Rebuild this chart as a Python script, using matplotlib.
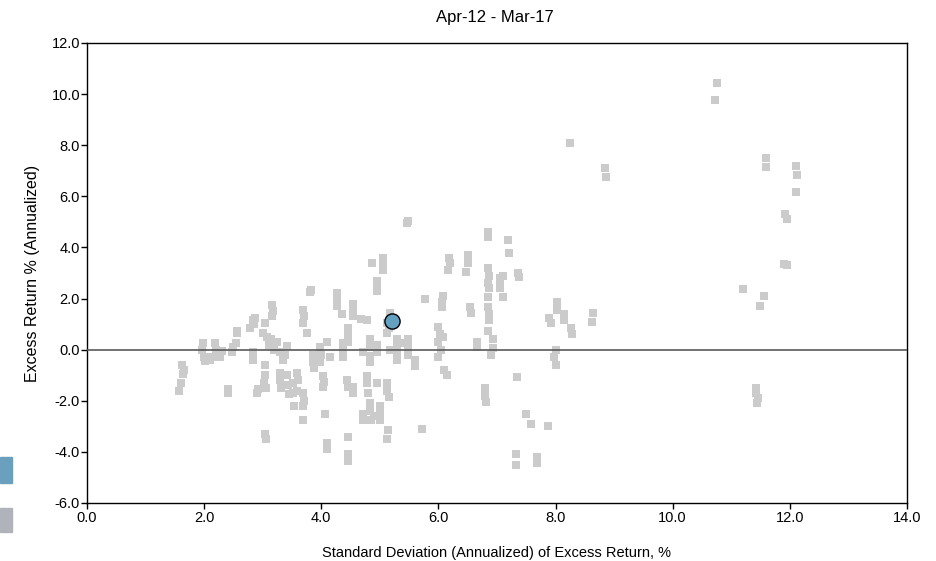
import matplotlib.pyplot as plt
from matplotlib.patches import Rectangle

plt.rcParams['font.family'] = ['Liberation Sans', 'DejaVu Sans']

title = 'Apr-12 - Mar-17'
x_label = 'Standard Deviation (Annualized) of Excess Return, %'
y_label = 'Excess Return % (Annualized)'

# peer universe points (std dev, excess return)
peer_points = [
    (1.62, -0.6), (1.65, -0.8), (1.64, -0.95), (1.6, -1.3), (1.58, -1.6),
    (1.98, 0.25), (1.97, 0.0), (2.0, -0.3), (2.02, -0.45), (2.1, -0.4), (2.13, -0.3),
    (2.19, 0.25), (2.2, 0.0), (2.22, -0.3), (2.3, -0.05), (2.27, -0.3),
    (2.41, -1.55), (2.4, -1.7),
    (2.48, -0.1), (2.5, 0.1), (2.54, 0.25), (2.56, 0.65), (2.57, 0.72),
    (2.78, 0.85), (2.83, 1.15), (2.87, 1.25), (2.85, 1.0),
    (2.83, -0.1), (2.84, -0.4), (2.92, -1.55), (2.9, -1.7),
    (3.04, -0.6), (3.04, -1.0), (3.02, -1.3), (3.05, -1.5),
    (3.04, -3.3), (3.06, -3.5),
    (3.16, 1.75), (3.18, 1.5), (3.16, 1.3), (3.04, 1.05),
    (3.0, 0.65), (3.07, 0.5), (3.1, 0.2), (3.15, 0.4), (3.2, 0.0), (3.25, 0.3),
    (3.3, -0.1), (3.35, -0.4), (3.41, 0.15), (3.38, -0.2),
    (3.3, -0.9), (3.3, -1.2), (3.32, -1.5), (3.42, -1.0), (3.44, -1.4), (3.45, -1.75),
    (3.52, -1.3), (3.52, -1.7), (3.53, -2.2),
    (3.58, -0.9), (3.6, -1.2), (3.58, -1.6), (3.69, -1.7), (3.7, -2.0), (3.69, -2.2),
    (3.69, -2.75),
    (3.69, 1.55), (3.7, 1.3), (3.69, 1.05), (3.75, 0.65),
    (3.82, 2.35), (3.8, 2.25),
    (3.86, -0.2), (3.86, -0.5), (3.88, -0.7), (3.98, 0.1), (4.0, -0.2), (3.98, -0.5),
    (4.15, -0.3), (4.1, 0.3),
    (4.03, -1.05), (4.05, -1.25), (4.03, -1.45), (4.06, -2.5),
    (4.1, -3.65), (4.1, -3.9),
    (4.27, 2.2), (4.27, 1.95), (4.27, 1.7), (4.35, 1.4),
    (4.46, 0.85), (4.46, 0.55), (4.46, 0.3), (4.37, 0.25), (4.37, 0.0), (4.37, -0.3),
    (4.44, -1.2), (4.46, -1.45), (4.54, -1.45), (4.54, -1.7),
    (4.46, -3.4), (4.45, -4.1), (4.45, -4.35),
    (4.54, 1.8), (4.55, 1.5), (4.54, 1.3), (4.78, 1.15), (4.68, 1.2),
    (4.83, 0.4), (4.83, 0.1), (4.83, -0.25), (4.83, -0.5), (4.71, -0.1), (4.95, -0.1),
    (4.95, 0.2),
    (4.78, -1.05), (4.78, -1.3), (4.8, -1.7), (4.95, -1.3),
    (4.71, -2.5), (4.71, -2.75), (4.83, -2.1), (4.83, -2.4), (4.85, -2.75),
    (5.0, -2.2), (5.0, -2.5), (5.0, -2.75), (4.9, -2.6),
    (4.87, 3.4), (5.05, 3.6), (5.05, 3.3), (5.05, 3.1), (4.95, 2.7), (4.95, 2.5),
    (4.95, 2.3),
    (5.12, -1.3), (5.12, -1.6), (5.15, -1.85), (5.14, -3.15), (5.12, -3.5),
    (5.17, 1.45), (5.12, 1.05), (5.12, 0.65), (5.15, 0.85),
    (5.3, 0.4), (5.3, 0.1), (5.3, -0.2), (5.3, -0.4), (5.48, 0.4), (5.48, 0.1),
    (5.48, -0.2), (5.17, 0.0), (5.4, 0.25),
    (5.6, -0.4), (5.6, -0.65),
    (5.48, 5.05), (5.46, 4.95),
    (5.72, -3.1), (5.77, 2.0),
    (6.08, 2.1), (6.06, 1.85), (6.06, 1.65),
    (6.0, 0.9), (6.02, 0.6), (6.0, 0.3), (6.04, 0.0), (6.0, -0.3), (6.08, 0.5),
    (6.1, -0.8), (6.14, -1.0),
    (6.18, 3.6), (6.2, 3.4), (6.17, 3.1),
    (6.5, 3.7), (6.5, 3.4), (6.48, 3.05),
    (6.54, 1.65), (6.56, 1.45), (6.66, 0.3), (6.66, 0.1),
    (6.8, -1.5), (6.8, -1.8), (6.82, -2.05),
    (6.85, 4.6), (6.85, 4.4), (6.85, 3.2), (6.86, 2.9), (6.85, 2.6), (6.86, 2.4),
    (6.85, 2.05), (6.85, 1.65), (6.86, 1.4), (6.86, 1.15), (6.85, 0.73),
    (6.93, 0.4), (6.94, 0.05), (6.9, -0.2),
    (7.05, 2.8), (7.05, 2.6), (7.06, 2.4), (7.1, 2.05), (7.1, 2.9),
    (7.19, 4.3), (7.2, 3.8), (7.36, 3.0), (7.37, 2.85),
    (7.34, -1.07), (7.5, -2.5), (7.58, -2.9), (7.87, -3.0),
    (7.32, -4.1), (7.32, -4.5), (7.68, -4.2), (7.68, -4.45),
    (8.02, 1.85), (8.02, 1.55), (7.89, 1.25), (7.92, 1.05), (8.14, 1.4), (8.14, 1.15),
    (8.26, 0.85), (8.28, 0.6), (8.64, 1.45), (8.63, 1.1),
    (8.0, 0.0), (7.97, -0.3), (8.0, -0.6),
    (8.25, 8.1), (8.84, 7.1), (8.86, 6.76),
    (10.76, 10.43), (10.72, 9.77),
    (11.59, 7.5), (11.6, 7.15), (12.1, 7.18), (12.12, 6.83), (12.1, 6.16),
    (11.92, 5.3), (11.95, 5.1), (11.9, 3.35), (11.95, 3.3),
    (11.2, 2.37), (11.56, 2.1), (11.49, 1.7),
    (11.42, -1.5), (11.43, -1.7), (11.45, -1.9), (11.44, -2.1),
]
peer_x = [p[0] for p in peer_points]
peer_y = [p[1] for p in peer_points]

# highlighted portfolio
fund_x = [5.2]
fund_y = [1.12]

x_ticks = [0, 2, 4, 6, 8, 10, 12, 14]
y_ticks = [-6, -4, -2, 0, 2, 4, 6, 8, 10, 12]

fig = plt.figure(figsize=(9.37, 5.61), dpi=100)
ax = fig.add_axes([0.0928, 0.1034, 0.8751, 0.82])

ax.scatter(peer_x, peer_y, marker='s', s=34, color='#cbcbcb', linewidths=0, zorder=2)
ax.axhline(0, color='#5a5a5a', linewidth=1.2, zorder=3)
ax.scatter(fund_x, fund_y, marker='o', s=120, color='#64a0c0',
           edgecolors='black', linewidths=1, zorder=4)

ax.set_xlim(0, 14)
ax.set_ylim(-6, 12)
ax.set_xticks(x_ticks)
ax.set_yticks(y_ticks)
ax.set_xticklabels(['%.1f' % v for v in x_ticks])
ax.set_yticklabels(['%.1f' % v for v in y_ticks])
ax.tick_params(labelsize=10.5, length=4, width=1, color='black', pad=1)
ax.tick_params(axis='x', pad=2)
for s in ax.spines.values():
    s.set_color('black')
    s.set_linewidth(1)

ax.set_xlabel(x_label, fontsize=10.5, labelpad=15)
ax.set_ylabel(y_label, fontsize=11.5, labelpad=8)
fig.text(0.528, 0.983, title, ha='center', va='top', fontsize=12)

# cut-off legend swatches at the left edge
fig.add_artist(Rectangle((0, (561 - 483) / 561), 12 / 937, 26 / 561,
                         transform=fig.transFigure, color='#6aa0bd'))
fig.add_artist(Rectangle((0, (561 - 532) / 561), 12 / 937, 24 / 561,
                         transform=fig.transFigure, color='#b0b3ba'))

fig.savefig('out.png', dpi=100)
